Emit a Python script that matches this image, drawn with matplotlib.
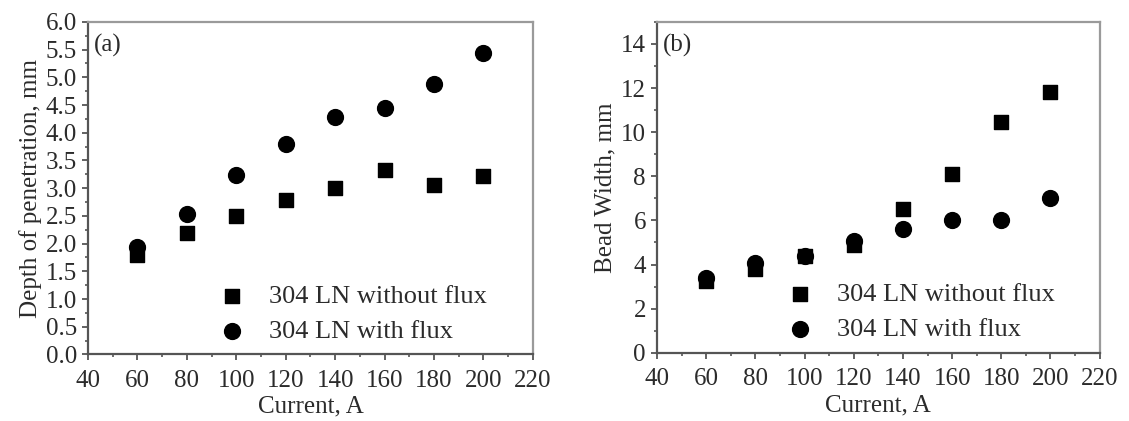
import matplotlib
matplotlib.use("Agg")
import matplotlib.pyplot as plt
from matplotlib.ticker import MultipleLocator, FormatStrFormatter

plt.rcParams['font.family'] = ['Liberation Serif', 'DejaVu Serif']

# data
current = [60, 80, 100, 120, 140, 160, 180, 200]
depth_without = [1.80, 2.20, 2.50, 2.78, 3.00, 3.33, 3.05, 3.22]
depth_with = [1.93, 2.53, 3.23, 3.80, 4.28, 4.45, 4.88, 5.43]
width_without = [3.25, 3.80, 4.40, 4.90, 6.50, 8.10, 10.45, 11.80]
width_with = [3.40, 4.05, 4.40, 5.05, 5.60, 6.00, 6.00, 7.00]
labels = ['304 LN without flux', '304 LN with flux']

TXT = '#2b2b2b'
DARK = '#555555'
LIGHT = '#9a9a9a'

fig = plt.figure(figsize=(11.29, 4.21), dpi=100)
ax_a = fig.add_axes([0.078, 0.158, 0.394, 0.790])
ax_b = fig.add_axes([0.582, 0.162, 0.392, 0.786])


def style(ax, ylim, ymaj, ymin, fmt, ylabel, tag):
    ax.set_xlim(40, 220)
    ax.set_ylim(*ylim)
    ax.xaxis.set_major_locator(MultipleLocator(20))
    ax.xaxis.set_minor_locator(MultipleLocator(10))
    ax.yaxis.set_major_locator(MultipleLocator(ymaj))
    ax.yaxis.set_minor_locator(MultipleLocator(ymin))
    ax.yaxis.set_major_formatter(FormatStrFormatter(fmt))
    for side in ['left', 'bottom']:
        ax.spines[side].set_color(DARK)
        ax.spines[side].set_linewidth(1.6)
    for side in ['top', 'right']:
        ax.spines[side].set_color(LIGHT)
        ax.spines[side].set_linewidth(1.6)
    ax.tick_params(which='major', direction='out', length=4, width=1.3,
                   color=DARK, labelsize=18, labelcolor=TXT)
    ax.tick_params(axis='x', which='major', pad=7)
    ax.tick_params(axis='y', which='major', pad=4)
    ax.tick_params(which='minor', direction='out', length=2.5, width=1.2, color=DARK)
    ax.set_xlabel('Current, A', fontsize=18, color=TXT, labelpad=3)
    ax.set_ylabel(ylabel, fontsize=18, color=TXT, labelpad=3)
    ax.text(0.012, 0.965, tag, transform=ax.transAxes, fontsize=18,
            color=TXT, va='top', ha='left')


style(ax_a, (0, 6.0), 0.5, 0.25, '%.1f', 'Depth of penetration, mm', '(a)')
style(ax_b, (0, 15), 2, 1, '%d', 'Bead Width, mm', '(b)')

for ax, y1, y2 in [(ax_a, depth_without, depth_with), (ax_b, width_without, width_with)]:
    ax.scatter(current, y1, marker='s', s=110, color='black', label=labels[0], zorder=3)
    ax.scatter(current, y2, marker='o', s=130, color='black', label=labels[1], zorder=3)
    leg = ax.legend(loc='lower left', bbox_to_anchor=(0.30, 0.036), frameon=False,
                    fontsize=19, handlelength=0.8, handletextpad=1.0,
                    borderpad=0, borderaxespad=0, labelspacing=0.42)
    for t in leg.get_texts():
        t.set_color(TXT)

fig.savefig('out.png', dpi=100, facecolor='white')
